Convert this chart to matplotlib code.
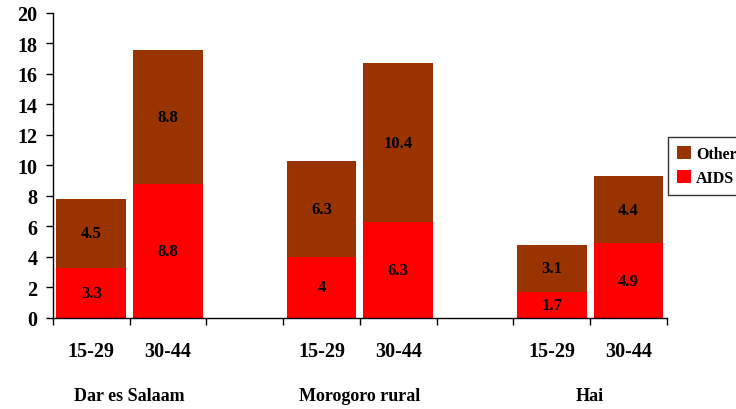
import matplotlib
matplotlib.use("Agg")
import matplotlib.pyplot as plt

plt.rcParams["font.family"] = ["Liberation Serif", "DejaVu Serif"]
plt.rcParams["font.weight"] = "bold"

regions = ["Dar es Salaam", "Morogoro rural", "Hai"]
age_groups = ["15-29", "30-44"]
aids = [3.3, 8.8, 4, 6.3, 1.7, 4.9]
other = [4.5, 8.8, 6.3, 10.4, 3.1, 4.4]
yticks = [0, 2, 4, 6, 8, 10, 12, 14, 16, 18, 20]

red = "#FF0000"
brown = "#993300"

fig = plt.figure(figsize=(7.36, 4.10), dpi=100)
ax = fig.add_axes([0.072, 0.222, 0.834, 0.744])

# two bars per region, with an empty slot between regions
xpos = []
for r in range(len(regions)):
    for a in range(len(age_groups)):
        xpos.append(r * 3 + a)

width = 0.91
ax.bar(xpos, aids, width=width, color=red, label="AIDS", zorder=2)
ax.bar(xpos, other, width=width, bottom=aids, color=brown, label="Other", zorder=2)

for x, a, o in zip(xpos, aids, other):
    ax.text(x, a / 2, f"{a:g}", ha="center", va="center", fontsize=12, fontweight="bold")
    ax.text(x, a + o / 2, f"{o:g}", ha="center", va="center", fontsize=12, fontweight="bold")

ax.set_xlim(-0.5, 7.5)
ax.set_ylim(0, 20)
ax.set_yticks(yticks)
ax.set_yticklabels([str(t) for t in yticks], fontsize=14.5, fontweight="bold")
ax.set_xticks([i - 0.5 for i in range(9)])
ax.set_xticklabels([])
ax.tick_params(axis="both", direction="out", length=5, width=1, color="black")
ax.tick_params(axis="y", pad=6)
for side in ("top", "right"):
    ax.spines[side].set_visible(False)
for side in ("left", "bottom"):
    ax.spines[side].set_linewidth(1)
    ax.spines[side].set_color("black")

trans = ax.get_xaxis_transform()
for i, x in enumerate(xpos):
    ax.text(x, -0.108, age_groups[i % 2], transform=trans, ha="center", va="center",
            fontsize=14.5, fontweight="bold")
for r, name in enumerate(regions):
    ax.text(r * 3 + 0.5, -0.253, name, transform=trans, ha="center", va="center",
            fontsize=13, fontweight="bold")

handles, labels = ax.get_legend_handles_labels()
leg = fig.legend(handles[::-1], labels[::-1], loc="upper left",
                 bbox_to_anchor=(668 / 736, (410 - 138) / 410),
                 frameon=True, fancybox=False, edgecolor="black",
                 prop={"family": ["Liberation Serif"], "weight": "bold", "size": 11.5},
                 handlelength=0.9, handleheight=0.9, handletextpad=0.3,
                 borderpad=0.55, labelspacing=0.5, borderaxespad=0)
leg.get_frame().set_linewidth(1)

fig.savefig("out.png", dpi=100)
